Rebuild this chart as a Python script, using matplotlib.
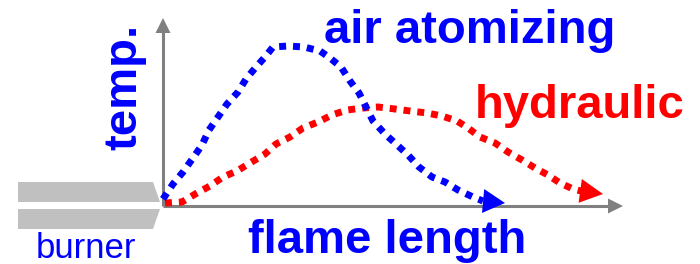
import matplotlib
matplotlib.use('Agg')
import matplotlib.pyplot as plt
from matplotlib.patches import Polygon
import numpy as np

# flame length / temperature (origin = axis corner)
air_x = [0, 10, 20, 30, 39, 46, 55, 64, 75, 83, 93, 102, 110, 125, 141, 157, 167, 178,
         187, 196, 210, 222, 233, 245, 256, 269, 282, 295, 310, 320, 342]
air_y = [6, 21, 33, 47, 60, 75, 88, 101, 113, 126, 138, 148, 158, 159, 158, 154, 147, 138,
         124, 112, 84, 71, 61, 50, 38, 28, 23, 15, 8, 4, 2]

hyd_x = [2, 19, 34, 47, 60, 74, 87, 102, 113, 127, 140, 155, 169, 184, 200, 215, 232, 247,
         264, 279, 294, 305, 317, 332, 345, 359, 372, 385, 397, 410, 418, 440]
hyd_y = [2, 3, 12, 19, 28, 34, 42, 51, 61, 68, 77, 83, 90, 95, 97, 98, 96, 94,
         92, 89, 84, 77, 68, 62, 53, 45, 37, 30, 22, 16, 14, 11]

x_axis_end = 460
y_axis_end = 187

# burner nozzle outline
burner_top = [(-145, 23), (-10, 23), (-3, 3), (-145, 3)]
burner_bot = [(-145, -4), (-3, -4), (-10, -24), (-145, -24)]

BLUE = '#0000ff'
RED = '#ff0000'
GRAY = '#808080'


def arrow_head(ax, xs, ys, length, width, color, z):
    tip = np.array([xs[-1], ys[-1]], dtype=float)
    prev = np.array([xs[-2], ys[-2]], dtype=float)
    d = tip - prev
    d = d / np.hypot(d[0], d[1])
    n = np.array([-d[1], d[0]])
    base = tip - length * d
    pts = [tip, base + width / 2 * n, base - width / 2 * n]
    ax.add_patch(Polygon(pts, closed=True, facecolor=color, edgecolor='none', zorder=z))


fig = plt.figure(figsize=(7, 2.64), dpi=100)
ax = fig.add_axes([0, 0, 1, 1])
ax.set_xlim(-163, 537)
ax.set_ylim(-59, 205)
ax.axis('off')

# burner
for shape in [burner_top, burner_bot]:
    ax.add_patch(Polygon(shape, closed=True, facecolor='#c0c0c0', edgecolor='none', zorder=1))

# axes with arrows
ax.plot([0, x_axis_end - 12], [-1, -1], color=GRAY, lw=2.2, solid_capstyle='butt', zorder=2)
ax.plot([0, 0], [-1, y_axis_end - 12], color=GRAY, lw=2.2, solid_capstyle='butt', zorder=2)
arrow_head(ax, [0, x_axis_end], [-1, -1], 15, 15, GRAY, 2)
arrow_head(ax, [0, 0], [0, y_axis_end], 15, 15, GRAY, 2)

# curves
ax.plot(hyd_x[:-1], hyd_y[:-1], color=RED, lw=5, linestyle=(0, (1, 1)),
        dash_capstyle='butt', zorder=3)
arrow_head(ax, hyd_x, hyd_y, 23, 24, RED, 3)
ax.plot(air_x[:-1], air_y[:-1], color=BLUE, lw=5, linestyle=(0, (1, 1)),
        dash_capstyle='butt', zorder=4)
arrow_head(ax, air_x, air_y, 22, 24, BLUE, 4)

font = ['Liberation Sans', 'DejaVu Sans']
ax.text(307, 162, 'air atomizing', color=BLUE, fontsize=34, fontweight='bold',
        family=font, ha='center', va='baseline')
ax.text(417, 87, 'hydraulic', color=RED, fontsize=34, fontweight='bold',
        family=font, ha='center', va='baseline')
ax.text(224, -48, 'flame length', color=BLUE, fontsize=34, fontweight='bold',
        family=font, ha='center', va='baseline')
ax.text(-39, 118, 'temp.', color=BLUE, fontsize=34, fontweight='bold',
        family=font, ha='center', va='center', rotation=90)
ax.text(-77, -53, 'burner', color=BLUE, fontsize=25, family=font,
        ha='center', va='baseline')

fig.savefig('out.png', dpi=100)
